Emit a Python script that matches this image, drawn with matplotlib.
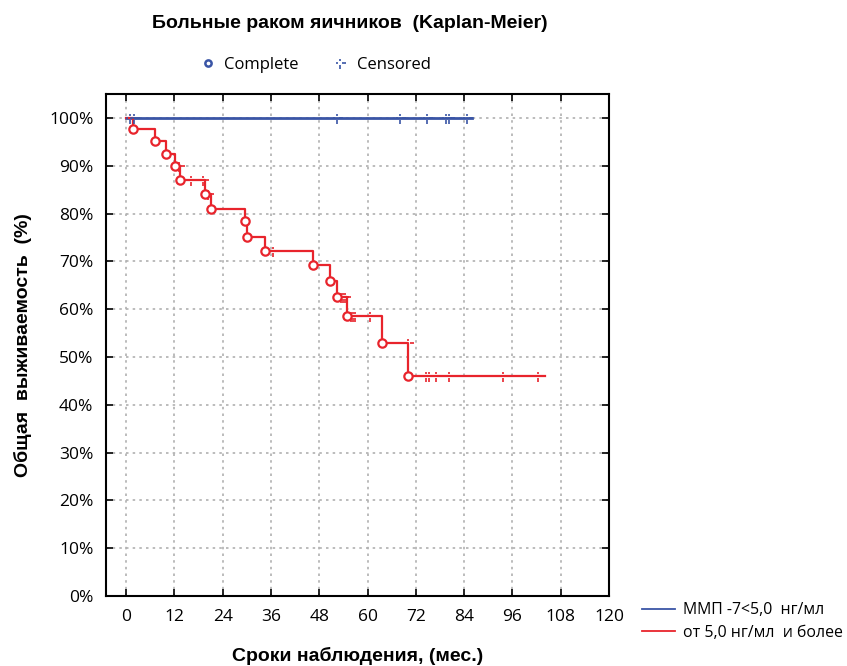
"""
Kaplan-Meier survival curves, ovarian cancer patients, by MMP-7 level.
"""

import matplotlib
matplotlib.use("Agg")
import matplotlib.pyplot as plt
import numpy as np
from matplotlib.lines import Line2D
from matplotlib.path import Path

# %% Data (months, survival %)
blue_end = 85.9
blue_censored = [0.9, 1.9, 52.3, 68.0, 74.9, 79.6, 80.2, 84.6]

red_event_t = [1.7, 7.1, 10.0, 12.2, 13.5, 19.5, 21.2, 29.5, 30.0, 34.6,
               46.5, 50.6, 52.4, 54.8, 63.5, 70.1]
red_event_s = [97.6, 95.2, 92.4, 90.0, 87.1, 84.0, 81.0, 78.4, 75.0, 72.1,
               69.2, 65.8, 62.5, 58.5, 52.9, 46.0]
red_end = 104.1
red_censored = [13.2, 16.2, 19.0, 20.3, 36.4, 53.5, 54.0, 54.5, 56.0, 56.5,
                57.0, 60.6, 70.0, 74.6, 75.2, 77.0, 80.3, 93.6, 102.4]

xticks = np.arange(0, 121, 12)
yticks = np.arange(0, 101, 10)

title = "Больные раком яичников  (Kaplan-Meier)"
xlabel = "Сроки наблюдения, (мес.)"
ylabel = "Общая  выживаемость  (%)"
group_labels = ["ММП -7<5,0  нг/мл", "от 5,0 нг/мл  и более"]

BLUE = "#3a55a6"
RED = "#e8242c"

# censored marker: broken cross
cens_verts = [(0, 0.3), (0, 0.65), (0, -0.35), (0, -1.0),
              (0.35, 0), (1.0, 0), (-0.6, 0), (-0.35, 0)]
cens_codes = [Path.MOVETO, Path.LINETO] * 4
cens_marker = Path(cens_verts, cens_codes)


def step_xy(times, surv, end):
    xs, ys = [0], [100.0]
    level = 100.0
    for t, s in zip(times, surv):
        xs += [t, t]
        ys += [level, s]
        level = s
    xs.append(end)
    ys.append(level)
    return np.array(xs), np.array(ys)


def level_at(times, surv, t):
    level = 100.0
    for ti, si in zip(times, surv):
        if ti <= t:
            level = si
    return level


plt.rcParams["font.family"] = ["Open Sans", "DejaVu Sans"]
bold_font = ["Liberation Sans", "DejaVu Sans"]

fig = plt.figure(figsize=(8.47, 6.66), dpi=100)
ax = fig.add_axes([0.1251, 0.1051, 0.5939, 0.7538])

# blue group: nobody died
ax.plot([0, blue_end], [100, 100], color=BLUE, lw=2, zorder=3)
ax.plot(blue_censored, [100] * len(blue_censored), ls="none",
        marker=cens_marker, ms=8.5, mec=BLUE, mew=1.2, zorder=4)

# red group
sx, sy = step_xy(red_event_t, red_event_s, red_end)
ax.plot(sx, sy, color=RED, lw=1.6, zorder=3)
ax.plot(red_event_t, red_event_s, ls="none", marker="o", ms=6,
        mfc="white", mec=RED, mew=1.6, zorder=5)
red_cens_s = [level_at(red_event_t, red_event_s, t) for t in red_censored]
ax.plot(red_censored, red_cens_s, ls="none", marker=cens_marker, ms=8.5,
        mec=RED, mew=1.2, zorder=4)

ax.set_xlim(-5, 120)
ax.set_ylim(0, 105)
ax.set_xticks(xticks)
ax.set_yticks(yticks)
ax.set_yticklabels([f"{v}%" for v in yticks])
ax.tick_params(direction="in", length=5, width=1.2, labelsize=12.5,
               top=True, right=True, pad=9)
ax.grid(color="#b0b0b0", ls=(0, (1.5, 2.5)), lw=1.2)
for sp in ax.spines.values():
    sp.set_linewidth(1.5)

ax.set_xlabel(xlabel, fontsize=14, fontweight="bold",
              family=bold_font, labelpad=16)
ax.set_ylabel(ylabel, fontsize=14, fontweight="bold",
              family=bold_font, labelpad=12)
fig.text(0.413, 0.965, title, ha="center", va="center", fontsize=14,
         fontweight="bold", family=bold_font)

# top legend: Complete / Censored
top_handles = [
    Line2D([], [], ls="none", marker="o", ms=4.5, mfc="white", mec=BLUE, mew=1.8),
    Line2D([], [], ls="none", marker=cens_marker, ms=8.5, mec=BLUE, mew=1.2),
]
fig.legend(top_handles, ["Complete", "Censored"], loc="center",
           bbox_to_anchor=(0.372, 0.902), ncol=2, frameon=False,
           fontsize=12, handlelength=1.0, handletextpad=0.5,
           columnspacing=2.0)

# group legend, lower right outside the axes
grp_handles = [Line2D([], [], color=BLUE, lw=1.3),
               Line2D([], [], color=RED, lw=1.3)]
fig.legend(grp_handles, group_labels, loc="center left",
           bbox_to_anchor=(0.758, 0.067), frameon=False, fontsize=11.4,
           handlelength=2.1, handletextpad=0.5, labelspacing=0.4,
           borderpad=0.0, borderaxespad=0.0)

fig.savefig("out.png", dpi=100)
